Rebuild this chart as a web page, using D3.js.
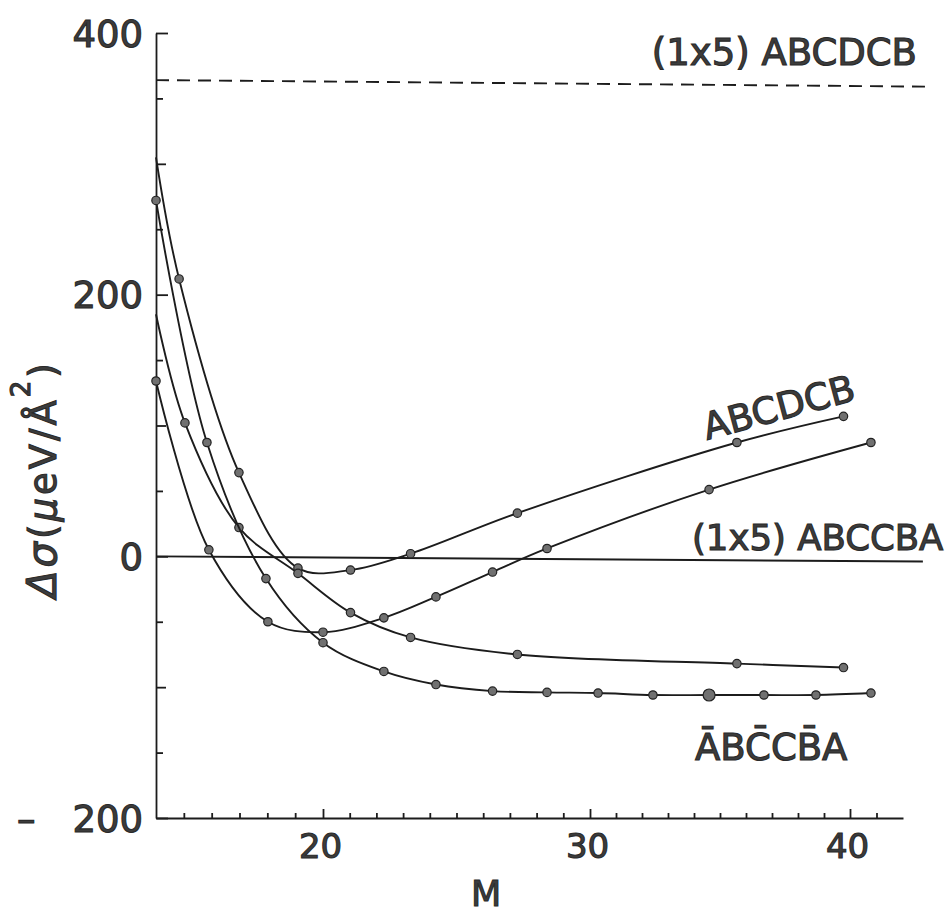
<!DOCTYPE html>
<html>
<head>
<meta charset="utf-8">
<script src="https://cdnjs.cloudflare.com/ajax/libs/d3/7.8.5/d3.min.js"></script>
<style>
    body { margin: 0; background: #fff; }
    text { font-family: "DejaVu Sans", sans-serif; fill: #3c3c3c; stroke: #2a2a2a; stroke-width: 1.1px; }
</style>
</head>
<body>
<script>
// axis breaks of the hand drawn M axis (spacing is not quite even on the original)
var xAxisBreaks = [14, 20, 30, 40, 42];
var xLabelTicks = [20, 30, 40];
var xMinorTicks = [15, 16, 17, 18, 19, 21, 22, 23, 24, 25, 26, 27, 28, 29,
                   31, 32, 33, 34, 35, 36, 37, 38, 39, 41];
var yLabelTicks = [400, 200, 0, -200];
var yLabelText = ["400", "200", "0", "\u2013\u2003200"];
var yHundredTicks = [300, 100, -100];
var yFiftyTicks = [350, 250, 150, 50, -50, -150];

// curve ending top right, labelled ABCDCB
var abcdcbM   = [14, 14.83, 16.98, 19.10, 21.03, 23.28, 27.28, 35.65, 39.75];
var abcdcbVal = [305, 212, 64, -9, -10.5, 2, 33, 87, 107];

// curve levelling off near -85
var midM   = [14, 15.04, 16.98, 19.10, 21.03, 23.28, 27.28, 35.65, 39.75];
var midVal = [185, 102, 22, -13, -43, -62, -75, -82, -85];

// lowest curve, labelled A-BC-CB-A
var lowM   = [14, 15.83, 17.95, 20.0, 22.28, 24.23, 26.35, 28.39, 30.31, 32.42, 34.58, 36.69, 38.69, 40.79];
var lowVal = [272, 87, -17, -66, -88, -98, -103, -104, -104.5, -106, -106, -106, -106, -104.5];

// curve with the minimum near M = 20, rising again
var riseM   = [14, 15.90, 18.02, 20.0, 22.28, 24.23, 26.35, 28.39, 34.58, 40.79];
var riseVal = [134, 5, -50, -58, -47, -31, -12, 6, 51, 87];

// reference levels: (1x5) ABCDCB (dashed) and (1x5) ABCCBA (solid)
var dashM = [14, 42.9];
var dashVal = [364, 359];
var zeroM = [14, 42.75];
var zeroVal = [0, -4];

var width = 945, height = 916;

var xScale = d3.scaleLinear()
    .domain(xAxisBreaks)
    .range([156, 323, 590, 850, 903]);
var yScale = d3.scaleLinear()
    .domain([-200, 400])
    .range([818, 33]);

var svg = d3.select("body").append("svg")
    .attr("width", width)
    .attr("height", height);

function zipPoints(ms, vals) {
    return ms.map(function(m, i) { return {m: m, v: vals[i]}; });
}

var line = d3.line()
    .x(function(d) { return xScale(d.m); })
    .y(function(d) { return yScale(d.v); })
    .curve(d3.curveCatmullRom.alpha(0.5));

var straight = d3.line()
    .x(function(d) { return xScale(d.m); })
    .y(function(d) { return yScale(d.v); });

// x axis, small ticks
var xMinor = svg.append("g")
    .attr("transform", "translate(0,818)")
    .call(d3.axisBottom(xScale).tickValues(xMinorTicks).tickSize(-5).tickSizeOuter(0).tickFormat(""));

// x axis, labelled ticks
var xMajor = svg.append("g")
    .attr("transform", "translate(0,818)")
    .call(d3.axisBottom(xScale).tickValues(xLabelTicks).tickSize(-9).tickSizeOuter(0).tickPadding(16));
xMajor.select(".domain").remove();
xMajor.selectAll("text")
    .attr("dx", "-3")
    .style("font-size", "34px");

// y axis
var yFifty = svg.append("g")
    .attr("transform", "translate(156,0)")
    .call(d3.axisLeft(yScale).tickValues(yFiftyTicks).tickSize(-7).tickSizeOuter(0).tickFormat(""));
var yHundred = svg.append("g")
    .attr("transform", "translate(156,0)")
    .call(d3.axisLeft(yScale).tickValues(yHundredTicks).tickSize(-10).tickFormat(""));
yHundred.select(".domain").remove();
var yMajor = svg.append("g")
    .attr("transform", "translate(156,0)")
    .call(d3.axisLeft(yScale).tickValues(yLabelTicks).tickSize(-12).tickPadding(13)
        .tickFormat(function(d, i) { return yLabelText[i]; }));
yMajor.select(".domain").remove();
yMajor.selectAll("text")
    .attr("dy", "0.36em")
    .style("font-size", "37px");

svg.selectAll(".domain, .tick line")
    .attr("stroke", "#1c1c1c")
    .attr("stroke-width", 1.8);
svg.selectAll(".tick text")
    .attr("fill", "#3c3c3c")
    .attr("font-family", "DejaVu Sans");

// reference lines
svg.append("path")
    .datum(zipPoints(dashM, dashVal))
    .attr("d", straight)
    .attr("fill", "none")
    .attr("stroke", "#1c1c1c")
    .attr("stroke-width", 1.9)
    .attr("stroke-dasharray", "13,8");

svg.append("path")
    .datum(zipPoints(zeroM, zeroVal))
    .attr("d", straight)
    .attr("fill", "none")
    .attr("stroke", "#1c1c1c")
    .attr("stroke-width", 1.9);

// the four curves, first point of two of them is only the axis crossing
var curves = [
    {pts: zipPoints(abcdcbM, abcdcbVal), skipFirst: true},
    {pts: zipPoints(midM, midVal), skipFirst: true},
    {pts: zipPoints(lowM, lowVal), skipFirst: false, bigDot: 10},
    {pts: zipPoints(riseM, riseVal), skipFirst: false}
];

curves.forEach(function(c) {
    svg.append("path")
        .datum(c.pts)
        .attr("d", line)
        .attr("fill", "none")
        .attr("stroke", "#1c1c1c")
        .attr("stroke-width", 1.9);

    svg.append("g").selectAll("circle")
        .data(c.skipFirst ? c.pts.slice(1) : c.pts)
        .enter().append("circle")
        .attr("cx", function(d) { return xScale(d.m); })
        .attr("cy", function(d) { return yScale(d.v); })
        .attr("r", function(d, i) { return (c.bigDot !== undefined && i === c.bigDot) ? 6 : 4.2; })
        .attr("fill", "#707070")
        .attr("stroke", "#222")
        .attr("stroke-width", 1.2);
});

// labels
svg.append("text")
    .attr("x", 917)
    .attr("y", 65)
    .attr("text-anchor", "end")
    .style("font-size", "37px")
    .text("(1x5) ABCDCB");

svg.append("text")
    .attr("x", 692)
    .attr("y", 550)
    .style("font-size", "35.5px")
    .text("(1x5) ABCCBA");

svg.append("text")
    .attr("transform", "translate(707,440) rotate(-15)")
    .style("font-size", "37px")
    .text("ABCDCB");

svg.append("text")
    .attr("x", 695)
    .attr("y", 760)
    .style("font-size", "37px")
    .text("A\u0304BC\u0304CB\u0304A");

svg.append("text")
    .attr("x", 486)
    .attr("y", 906)
    .attr("text-anchor", "middle")
    .style("font-size", "35px")
    .text("M");

// y axis title
var yTitle = svg.append("text")
    .attr("transform", "translate(56,479) rotate(-90)")
    .attr("text-anchor", "middle")
    .style("font-size", "37px")
    .style("letter-spacing", "3px");
yTitle.append("tspan").style("font-style", "italic").style("font-size", "40px").text("\u0394\u03c3");
yTitle.append("tspan").text("(");
yTitle.append("tspan").style("font-style", "italic").text("\u03bc");
yTitle.append("tspan").text("eV/\u00c5");
yTitle.append("tspan").attr("baseline-shift", "26px").style("font-size", "26px").text("2");
yTitle.append("tspan").text(")");
</script>
</body>
</html>
